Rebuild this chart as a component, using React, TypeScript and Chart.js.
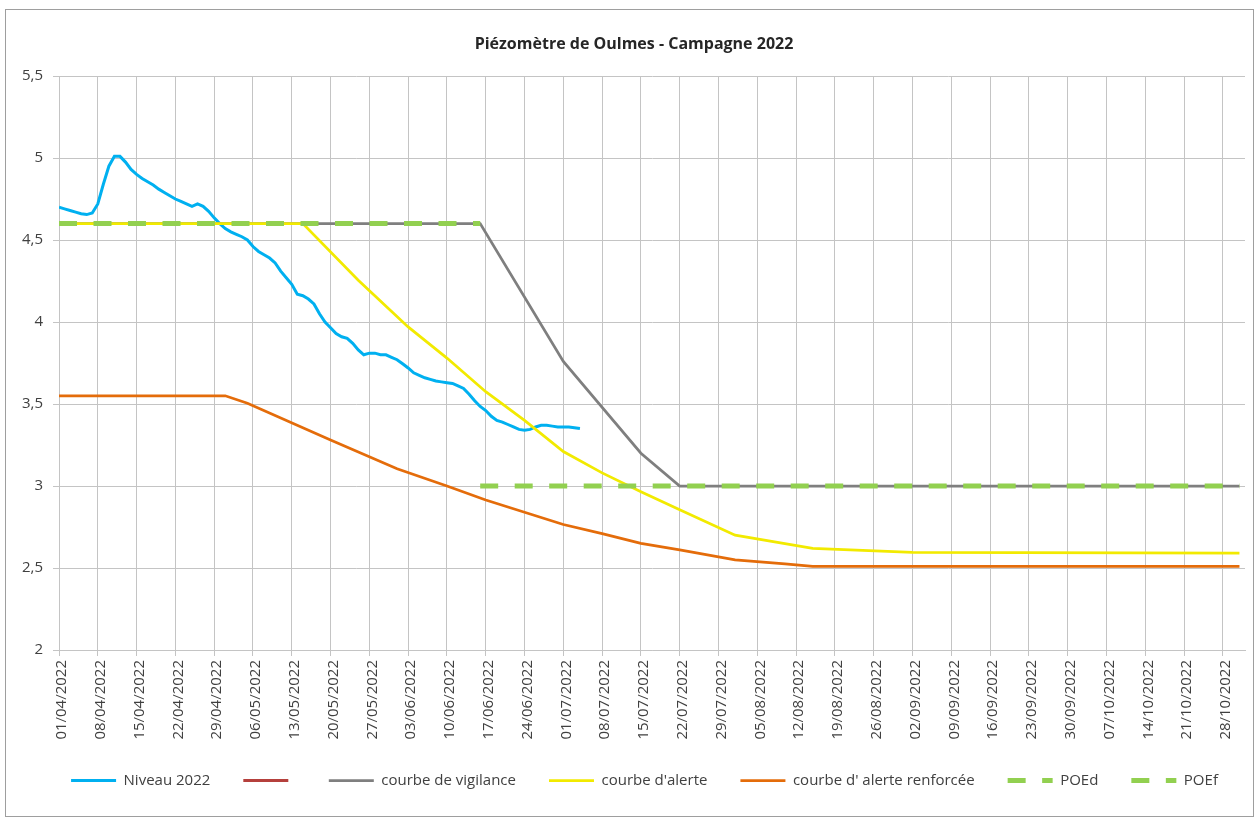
import React, { useEffect, useRef } from 'react';
import { Chart, registerables } from 'chart.js';

Chart.register(...registerables);

const TITLE = 'Piézomètre de Oulmes - Campagne 2022';

const TICK_LABELS = [
  '01/04/2022', '08/04/2022', '15/04/2022', '22/04/2022', '29/04/2022',
  '06/05/2022', '13/05/2022', '20/05/2022', '27/05/2022', '03/06/2022',
  '10/06/2022', '17/06/2022', '24/06/2022', '01/07/2022', '08/07/2022',
  '15/07/2022', '22/07/2022', '29/07/2022', '05/08/2022', '12/08/2022',
  '19/08/2022', '26/08/2022', '02/09/2022', '09/09/2022', '16/09/2022',
  '23/09/2022', '30/09/2022', '07/10/2022', '14/10/2022', '21/10/2022',
  '28/10/2022',
];

// Niveau 2022 : one value per day from 01/04/2022
const NIVEAU_VALUES = [
  4.70, 4.69, 4.68, 4.67, 4.66, 4.655, 4.665, 4.72, 4.84, 4.95,
  5.01, 5.01, 4.975, 4.93, 4.90, 4.875, 4.855, 4.835, 4.81, 4.79,
  4.77, 4.75, 4.735, 4.72, 4.705, 4.72, 4.705, 4.675, 4.635, 4.60,
  4.57, 4.55, 4.535, 4.52, 4.50, 4.46, 4.43, 4.41, 4.39, 4.36,
  4.31, 4.27, 4.23, 4.17, 4.16, 4.14, 4.11, 4.05, 4.00, 3.965,
  3.93, 3.91, 3.90, 3.87, 3.83, 3.80, 3.81, 3.81, 3.80, 3.80,
  3.785, 3.77, 3.745, 3.72, 3.69, 3.675, 3.66, 3.65, 3.64, 3.635,
  3.63, 3.625, 3.61, 3.595, 3.56, 3.52, 3.485, 3.46, 3.425, 3.40,
  3.39, 3.375, 3.36, 3.345, 3.34, 3.345, 3.36, 3.37, 3.37, 3.365,
  3.36, 3.36, 3.36, 3.355, 3.35,
];

const VIGILANCE_DATES = ['01/04', '16/06', '01/07', '15/07', '22/07', '31/10'];
const VIGILANCE_VALUES = [4.6, 4.6, 3.76, 3.2, 3.0, 3.0];

const ALERTE_DATES = ['01/04', '15/05', '25/05', '03/06', '10/06', '17/06', '24/06', '01/07', '08/07', '15/07', '22/07', '01/08', '15/08', '02/09', '31/10'];
const ALERTE_VALUES = [4.6, 4.6, 4.255, 3.97, 3.78, 3.575, 3.40, 3.21, 3.08, 2.965, 2.855, 2.70, 2.62, 2.595, 2.59];

const RENFORCEE_DATES = ['01/04', '01/05', '05/05', '20/05', '01/06', '10/06', '17/06', '24/06', '01/07', '08/07', '15/07', '22/07', '01/08', '10/08', '15/08', '31/10'];
const RENFORCEE_VALUES = [3.55, 3.55, 3.505, 3.28, 3.105, 3.0, 2.915, 2.84, 2.765, 2.71, 2.65, 2.61, 2.55, 2.525, 2.51, 2.51];

const POED_DATES = ['01/04', '16/06'];
const POED_VALUES = [4.6, 4.6];

const POEF_DATES = ['16/06', '31/10'];
const POEF_VALUES = [3.0, 3.0];

const FONT = '"Open Sans", sans-serif';

function dayIndex(d: string): number {
  const [dd, mm] = d.split('/').map(Number);
  return Math.round((Date.UTC(2022, mm - 1, dd) - Date.UTC(2022, 3, 1)) / 86400000);
}

function points(dates: string[], values: number[]) {
  return dates.map((d, i) => ({ x: dayIndex(d), y: values[i] }));
}

const titlePlugin = {
  id: 'fixedTitle',
  afterDraw(chart: any) {
    const ctx = chart.ctx;
    ctx.save();
    ctx.font = `bold 16px ${FONT}`;
    ctx.fillStyle = '#262626';
    ctx.textAlign = 'center';
    ctx.textBaseline = 'middle';
    ctx.fillText(TITLE, 628, 34);
    ctx.restore();
  },
};

// moves the legend box so that its row is centred like the original
const legendShiftPlugin = {
  id: 'legendShift',
  afterLayout(chart: any) {
    const lg = chart.legend;
    if (!lg) return;
    lg.left += 19;
    lg.right += 19;
  },
};

export default function App() {
  const canvasRef = useRef<HTMLCanvasElement | null>(null);

  useEffect(() => {
    if (!canvasRef.current) return;
    const line = (label: string, data: any[], color: string, width: number, order: number, dash: number[] = []) => ({
      label,
      data,
      borderColor: color,
      backgroundColor: color,
      borderWidth: width,
      borderDash: dash,
      pointRadius: 0,
      pointHoverRadius: 0,
      tension: 0,
      fill: false,
      order,
    });
    const defaultLabels = (Chart as any).defaults.plugins.legend.labels.generateLabels;
    const chart = new Chart(canvasRef.current, {
      type: 'line',
      data: {
        datasets: [
          line('Niveau 2022', NIVEAU_VALUES.map((v, i) => ({ x: i, y: v })), '#00b0f0', 3, 6),
          line('', [], '#b5403c', 3, 5),
          line('courbe de vigilance', points(VIGILANCE_DATES, VIGILANCE_VALUES), '#7f7f7f', 2.75, 4),
          line("courbe d'alerte", points(ALERTE_DATES, ALERTE_VALUES), '#f2ea00', 2.75, 3),
          line("courbe d' alerte renforcée", points(RENFORCEE_DATES, RENFORCEE_VALUES), '#e46c0a', 2.75, 2),
          line('POEd', points(POED_DATES, POED_VALUES), '#92d050', 5, 1, [18, 16.5]),
          line('POEf', points(POEF_DATES, POEF_VALUES), '#92d050', 5, 0, [18, 16.5]),
        ],
      },
      options: {
        animation: false,
        responsive: true,
        maintainAspectRatio: false,
        events: [],
        layout: { padding: { left: 0, right: 8, top: 66, bottom: 18 } },
        plugins: {
          title: { display: false },
          tooltip: { enabled: false },
          legend: {
            position: 'bottom',
            labels: {
              usePointStyle: true,
              pointStyle: 'line',
              pointStyleWidth: 45,
              padding: 33,
              color: '#404040',
              font: { family: FONT, size: 15 },
              sort: (a: any, b: any) => a.datasetIndex - b.datasetIndex,
              generateLabels: (ch: any) =>
                defaultLabels(ch).map((item: any) => {
                  const ds = ch.data.datasets[item.datasetIndex];
                  return {
                    ...item,
                    lineDash: ds.borderDash,
                    lineWidth: ds.borderWidth,
                    strokeStyle: ds.borderColor,
                    pointStyle: 'line',
                  };
                }),
            },
          },
        },
        scales: {
          x: {
            type: 'linear',
            min: 0,
            max: 214,
            afterFit: (scale: any) => { scale.height = 90; },
            grid: { color: '#c4c4c4', lineWidth: 1, tickLength: 6, drawTicks: true },
            border: { color: '#c4c4c4' },
            ticks: {
              stepSize: 7,
              includeBounds: false,
              autoSkip: false,
              minRotation: 90,
              maxRotation: 90,
              padding: 4,
              labelOffset: 3,
              color: '#404040',
              font: { family: FONT, size: 15 },
              callback: (v: any) => TICK_LABELS[Math.round(Number(v) / 7)] ?? '',
            },
          },
          y: {
            type: 'linear',
            min: 2,
            max: 5.5,
            afterFit: (scale: any) => { scale.width = 53; },
            grid: { color: '#c4c4c4', lineWidth: 1, tickLength: 6 },
            border: { color: '#c4c4c4' },
            ticks: {
              stepSize: 0.5,
              padding: 10,
              color: '#404040',
              font: { family: FONT, size: 15 },
              callback: (v: any) => String(v).replace('.', ','),
            },
          },
        },
      },
      plugins: [titlePlugin, legendShiftPlugin],
    } as any);
    return () => chart.destroy();
  }, []);

  return (
    <div
      style={{
        position: 'absolute',
        left: 5,
        top: 9,
        width: 1249,
        height: 808,
        border: '1px solid #9e9e9e',
        boxSizing: 'border-box',
        background: '#fff',
      }}
    >
      <div style={{ position: 'relative', width: 1247, height: 806 }}>
        <canvas ref={canvasRef} />
      </div>
    </div>
  );
}
